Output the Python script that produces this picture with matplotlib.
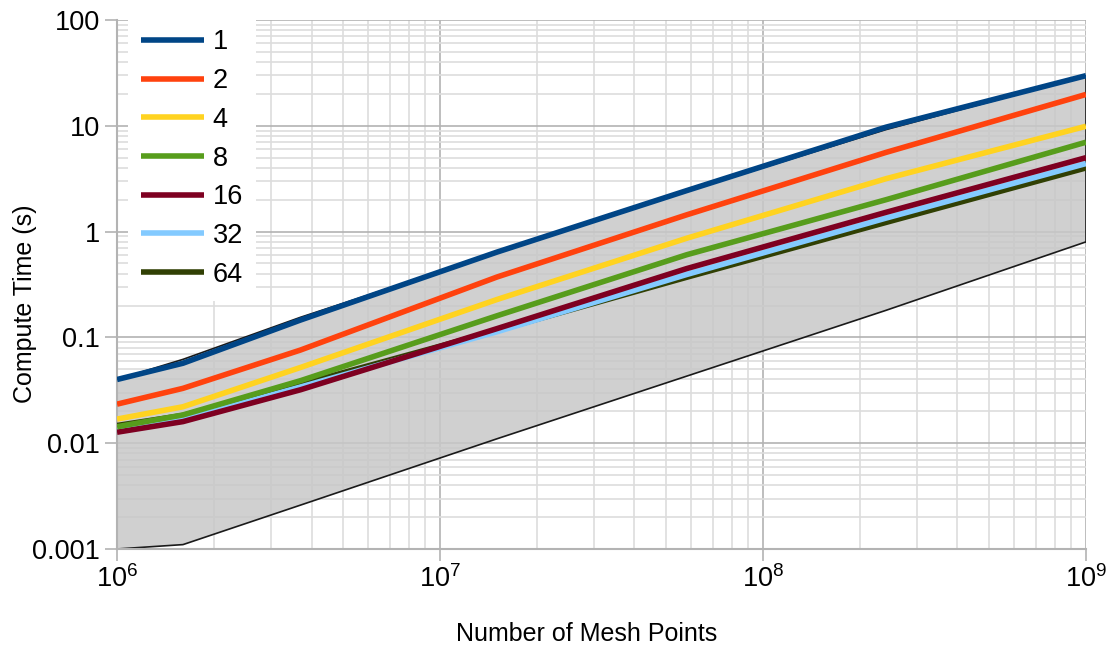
import matplotlib
matplotlib.use('Agg')
import matplotlib.pyplot as plt
from matplotlib.ticker import LogLocator, FixedLocator, FixedFormatter, NullFormatter

plt.rcParams['font.family'] = ['Liberation Sans', 'DejaVu Sans']

# --- data ---
mesh_points = [1.0e6, 1.6e6, 3.7e6, 1.5e7, 5.8e7, 2.4e8, 1.0e9]
thread_counts = ['1', '2', '4', '8', '16', '32', '64']
time_t1 = [0.040, 0.057, 0.146, 0.64, 2.44, 9.7, 29.8]
time_t2 = [0.0234, 0.033, 0.076, 0.372, 1.44, 5.6, 19.8]
time_t4 = [0.0169, 0.0221, 0.052, 0.228, 0.865, 3.16, 9.9]
time_t8 = [0.0143, 0.0185, 0.039, 0.160, 0.604, 2.0, 7.0]
time_t16 = [0.0127, 0.016, 0.032, 0.121, 0.447, 1.52, 5.0]
time_t32 = [0.0133, 0.0168, 0.034, 0.113, 0.393, 1.34, 4.4]
time_t64 = [0.0147, 0.0183, 0.036, 0.116, 0.370, 1.22, 4.0]
band_upper = [0.040, 0.062, 0.155, 0.63, 2.40, 9.2, 29.5]
band_lower = [0.0010, 0.0011, 0.0026, 0.011, 0.043, 0.18, 0.80]

series = [time_t1, time_t2, time_t4, time_t8, time_t16, time_t32, time_t64]
colors = ['#004586', '#ff420e', '#ffd320', '#579d1c', '#7e0021', '#83caff', '#314004']

fig = plt.figure(figsize=(11.19, 6.48), dpi=100)
ax = fig.add_axes([0.1046, 0.1528, 0.8659, 0.8163])
ax.set_xscale('log')
ax.set_yscale('log')
ax.set_xlim(1e6, 1e9)
ax.set_ylim(1e-3, 100)

# shaded range between the two reference curves
ax.fill_between(mesh_points, band_lower, band_upper, facecolor='#c8c8c8',
                alpha=0.85, edgecolor='none', zorder=1)
ax.plot(mesh_points, band_upper, color='#1a1a1a', lw=1.2, zorder=2)
ax.plot(mesh_points, band_lower, color='#1a1a1a', lw=1.2, zorder=2)
ax.plot([mesh_points[-1]] * 2, [band_lower[-1], band_upper[-1]], color='#1a1a1a', lw=1.2, zorder=2)

# thread-count curves; the first series sits on top
n = len(series)
for i, (vals, c, lab) in enumerate(zip(series, colors, thread_counts)):
    ax.plot(mesh_points, vals, color=c, lw=4, label=lab, zorder=3 + (n - i) * 0.1,
            solid_capstyle='butt')

# grid and axes styling
ax.set_axisbelow(True)
ax.xaxis.set_minor_locator(LogLocator(base=10, subs=range(2, 10)))
ax.yaxis.set_minor_locator(LogLocator(base=10, subs=range(2, 10)))
ax.grid(which='major', color='#b3b3b3', lw=1.2)
ax.grid(which='minor', color='#dddddd', lw=1.2)

ax.yaxis.set_major_locator(FixedLocator([1e-3, 1e-2, 1e-1, 1, 10, 100]))
ax.yaxis.set_major_formatter(FixedFormatter(['0.001', '0.01', '0.1', '1', '10', '100']))
ax.xaxis.set_major_locator(FixedLocator([1e6, 1e7, 1e8, 1e9]))
ax.xaxis.set_major_formatter(FixedFormatter([r'$\mathregular{10^{6}}$', r'$\mathregular{10^{7}}$',
                                             r'$\mathregular{10^{8}}$', r'$\mathregular{10^{9}}$']))
ax.xaxis.set_minor_formatter(NullFormatter())
ax.yaxis.set_minor_formatter(NullFormatter())
ax.tick_params(which='major', length=8.5, width=1.2, color='#b3b3b3', labelsize=19.5, pad=4)
ax.tick_params(axis='x', which='major', pad=3)
ax.tick_params(which='minor', length=0)

for side in ['top', 'right']:
    ax.spines[side].set_visible(False)
for side in ['left', 'bottom']:
    ax.spines[side].set_color('#b3b3b3')
    ax.spines[side].set_linewidth(1.5)

ax.set_xlabel('Number of Mesh Points', fontsize=18)
ax.set_ylabel('Compute Time (s)', fontsize=18)
ax.xaxis.set_label_coords(0.485, -0.138)
ax.yaxis.set_label_coords(-0.083, 0.464)

leg = ax.legend(loc='upper left', bbox_to_anchor=(0.011, 1.008), fontsize=19.5,
                frameon=True, fancybox=False, framealpha=1, edgecolor='none',
                handlelength=2.3, handletextpad=0.33, labelspacing=0.47,
                borderpad=0.5, borderaxespad=0)
leg.get_frame().set_facecolor('white')
leg.set_zorder(5)

fig.savefig('out.png', dpi=100)
